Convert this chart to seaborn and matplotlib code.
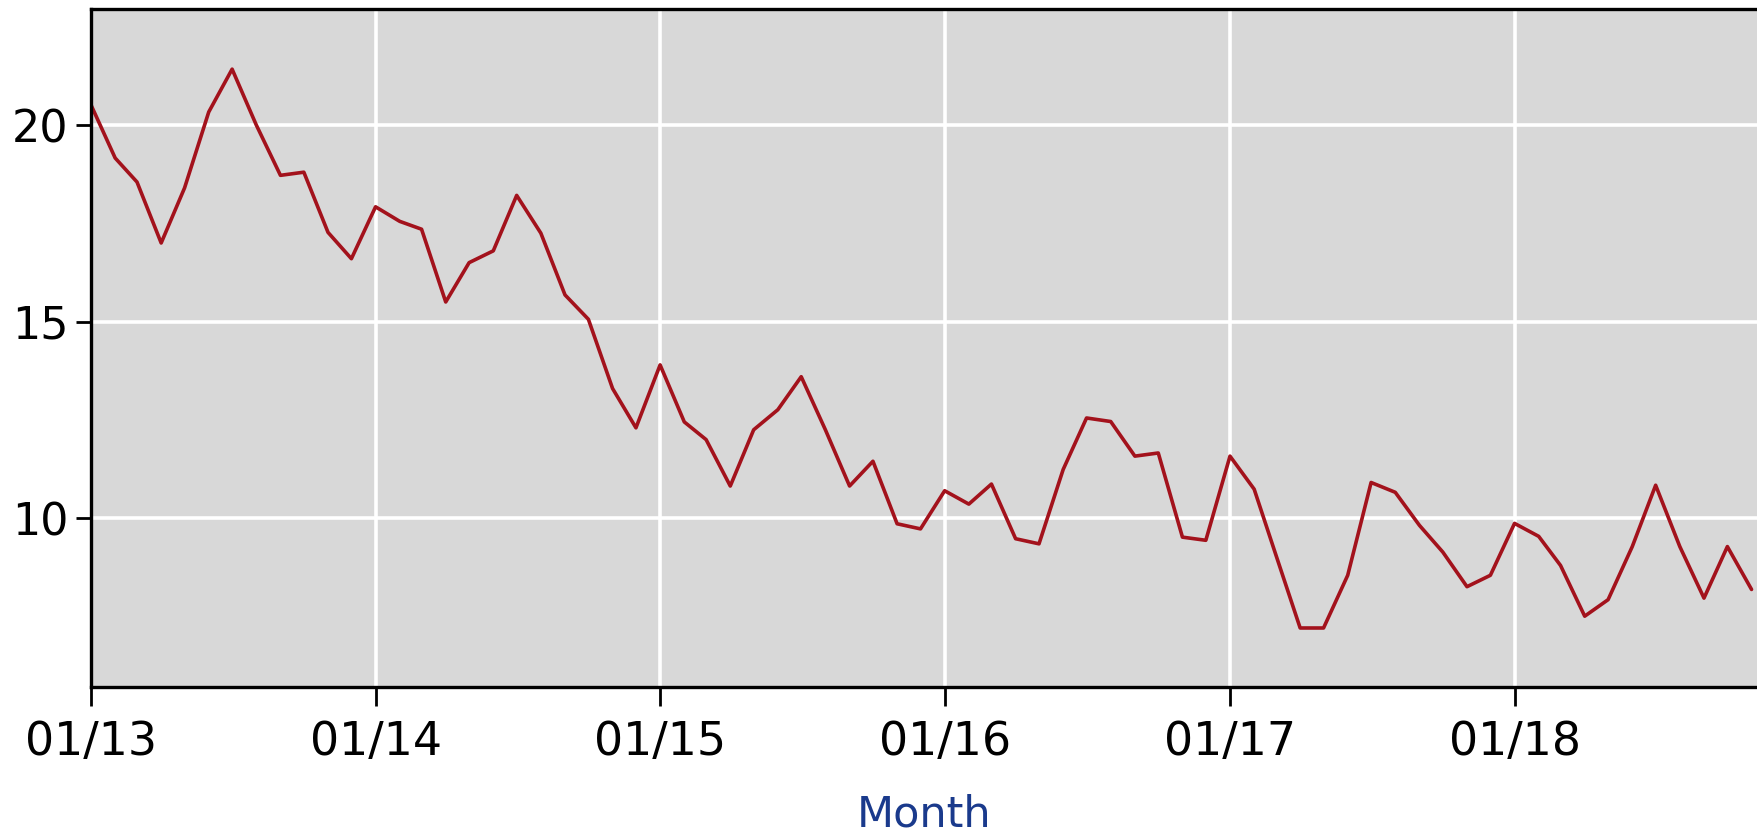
import pandas as pd
import matplotlib
matplotlib.use("Agg")
import matplotlib.pyplot as plt
import matplotlib.dates as mdates
import seaborn as sns

# monthly values, Jan 2013 .. Nov 2018
start_month = "2013-01-01"
values = [20.51, 19.16, 18.55, 17.0, 18.4, 20.33, 21.42, 20.0, 18.72, 18.8, 17.27, 16.6,
          17.92, 17.55, 17.35, 15.5, 16.5, 16.8, 18.21, 17.25, 15.68, 15.06, 13.3, 12.3,
          13.9, 12.45, 12.0, 10.82, 12.25, 12.76, 13.6, 12.25, 10.82, 11.45, 9.86, 9.73,
          10.7, 10.36, 10.87, 9.48, 9.35, 11.24, 12.55, 12.46, 11.58, 11.66, 9.52, 9.44,
          11.58, 10.74, 9.06, 7.21, 7.21, 8.55, 10.91, 10.66, 9.82, 9.14, 8.26, 8.55,
          9.87, 9.54, 8.8, 7.51, 7.93, 9.28, 10.84, 9.28, 7.97, 9.28, 8.19]
y_ticks = [10, 15, 20]

df = pd.DataFrame({"Month": pd.date_range(start_month, periods=len(values), freq="MS"),
                   "Value": values})

sns.set_style("darkgrid", {"axes.facecolor": "#d8d8d8", "grid.color": "white",
                           "axes.edgecolor": "black"})
plt.rcParams['font.family'] = ['DejaVu Sans']

fig = plt.figure(figsize=(17.57, 8.32), dpi=100)
ax = fig.add_axes([0.0518, 0.1743, 1.0 - 0.0518, 0.9892 - 0.1743])

sns.lineplot(data=df, x="Month", y="Value", color="#a3121c", linewidth=2.6, ax=ax)

ax.set_xlim(pd.Timestamp("2013-01-01"), pd.Timestamp("2018-11-08"))
ax.set_ylim(5.71, 22.95)
ax.set_yticks(y_ticks)
ax.xaxis.set_major_locator(mdates.YearLocator())
ax.xaxis.set_major_formatter(mdates.DateFormatter("%m/%y"))

ax.grid(True, color="white", linewidth=2.6)
for side in ["left", "top", "bottom"]:
    ax.spines[side].set_visible(True)
    ax.spines[side].set_color("black")
    ax.spines[side].set_linewidth(2.4)
ax.spines["right"].set_visible(False)

ax.tick_params(axis="x", direction="out", length=14, width=2, pad=10, labelsize=33,
               colors="black", bottom=True)
ax.tick_params(axis="y", direction="out", length=11, width=2, pad=5, labelsize=32,
               colors="black", left=True)

ax.set_ylabel("")
ax.set_xlabel("Month", fontsize=31, color="#1a3a8c", labelpad=20)

plt.savefig("out.png", dpi=100)
